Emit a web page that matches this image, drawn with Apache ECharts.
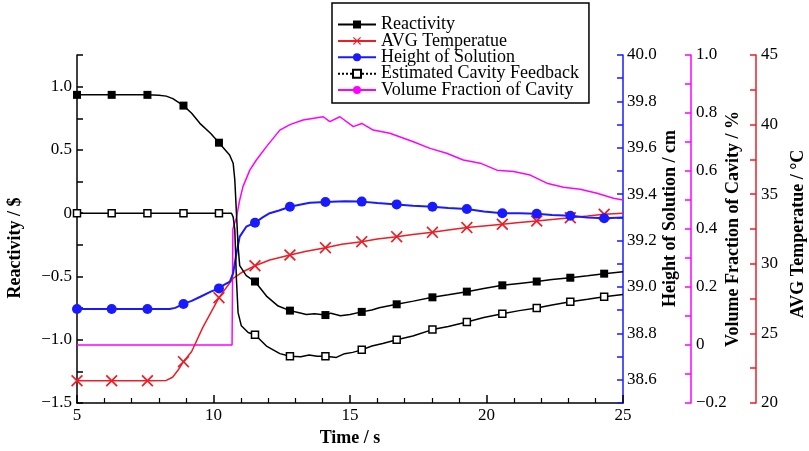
<!DOCTYPE html>
<html><head><meta charset="utf-8">
<script src="https://cdn.jsdelivr.net/npm/echarts/dist/echarts.min.js"></script>
<style>html,body{margin:0;padding:0;background:#fff}#c{width:809px;height:451px}</style>
</head><body><div id="c"></div>
<script>
// ---- data ----
const markerTimes = [5.0, 6.27, 7.58, 8.9, 10.2, 11.52, 12.8, 14.1, 15.43, 16.71, 18.02, 19.28, 20.58, 21.84, 23.07, 24.31];

const reactT = [5.0, 6.27, 7.58, 8.0, 8.27, 8.51, 8.9, 9.2, 9.5, 9.9, 10.2, 10.47, 10.59, 10.72, 10.78, 10.84, 10.9, 10.96, 11.2, 11.52, 11.94, 12.37, 12.8, 13.1, 13.4, 13.7, 14.1, 14.3, 14.65, 15.0, 15.43, 15.8, 16.07, 16.71, 17.32, 18.02, 18.6, 19.28, 19.9, 20.58, 21.2, 21.84, 22.4, 23.07, 23.7, 24.31, 25.0];
const reactV = [0.935, 0.935, 0.935, 0.932, 0.925, 0.905, 0.85, 0.79, 0.71, 0.63, 0.557, 0.49, 0.46, 0.395, 0.264, 0.005, -0.258, -0.415, -0.494, -0.54, -0.655, -0.734, -0.77, -0.785, -0.80, -0.795, -0.805, -0.79, -0.81, -0.80, -0.78, -0.765, -0.747, -0.72, -0.695, -0.665, -0.645, -0.62, -0.595, -0.57, -0.555, -0.54, -0.525, -0.51, -0.495, -0.478, -0.463];

const tempT = [5.0, 6.27, 7.58, 8.27, 8.5, 8.7, 8.9, 9.2, 9.6, 10.2, 10.72, 11.08, 11.52, 12.06, 12.8, 13.4, 14.1, 14.7, 15.43, 16.0, 16.71, 17.3, 18.02, 18.6, 19.28, 19.9, 20.58, 21.2, 21.84, 22.4, 23.07, 23.7, 24.31, 25.0];
const tempV = [21.6, 21.6, 21.6, 21.62, 21.85, 22.35, 22.97, 23.7, 25.4, 27.57, 28.96, 29.43, 29.86, 30.27, 30.63, 30.9, 31.16, 31.4, 31.59, 31.78, 31.95, 32.1, 32.26, 32.42, 32.6, 32.72, 32.84, 32.96, 33.07, 33.18, 33.31, 33.43, 33.56, 33.63];

const heightT = [5.0, 6.27, 7.58, 8.39, 8.6, 8.9, 9.2, 9.52, 9.9, 10.2, 10.4, 10.6, 10.72, 10.84, 10.96, 11.2, 11.52, 11.8, 12.06, 12.4, 12.8, 13.2, 13.53, 14.1, 14.8, 15.43, 16.0, 16.71, 17.3, 18.02, 18.6, 19.28, 19.9, 20.58, 21.2, 21.84, 22.4, 23.07, 23.7, 24.31, 25.0];
const heightV = [38.905, 38.905, 38.905, 38.905, 38.91, 38.927, 38.94, 38.958, 38.98, 38.994, 39.01, 39.023, 39.06, 39.145, 39.217, 39.26, 39.277, 39.30, 39.318, 39.33, 39.346, 39.356, 39.363, 39.366, 39.37, 39.368, 39.362, 39.356, 39.35, 39.346, 39.34, 39.336, 39.325, 39.318, 39.318, 39.316, 39.31, 39.307, 39.30, 39.296, 39.30];

const cavityFbT = [5.0, 6.27, 7.58, 8.9, 10.2, 10.66, 10.72, 10.78, 10.84, 10.9, 11.02, 11.27, 11.52, 11.94, 12.43, 12.8, 13.2, 13.5, 13.8, 14.1, 14.5, 14.8, 15.1, 15.43, 15.8, 16.2, 16.71, 17.3, 18.02, 18.6, 19.28, 19.9, 20.58, 21.2, 21.84, 22.4, 23.07, 23.7, 24.31, 25.0];
const cavityFbV = [0, 0, 0, 0, 0, 0, -0.03, -0.13, -0.52, -0.786, -0.89, -0.943, -0.96, -1.05, -1.11, -1.13, -1.135, -1.12, -1.13, -1.13, -1.14, -1.11, -1.10, -1.08, -1.05, -1.03, -1.0, -0.97, -0.92, -0.895, -0.86, -0.825, -0.795, -0.77, -0.75, -0.725, -0.70, -0.68, -0.66, -0.642];

const volFracT = [5.0, 10.68, 10.71, 10.84, 10.96, 11.08, 11.33, 11.57, 11.94, 12.43, 12.8, 13.28, 14.02, 14.26, 14.63, 15.12, 15.43, 15.85, 16.46, 17.32, 17.93, 18.54, 19.15, 19.77, 20.38, 20.99, 21.6, 22.21, 22.82, 23.43, 24.05, 24.65, 25.0];
const volFracV = [0.0, 0.0, 0.40, 0.44, 0.5, 0.546, 0.603, 0.638, 0.684, 0.741, 0.76, 0.776, 0.787, 0.77, 0.787, 0.753, 0.764, 0.741, 0.73, 0.701, 0.678, 0.661, 0.638, 0.627, 0.603, 0.598, 0.586, 0.558, 0.544, 0.537, 0.523, 0.506, 0.5];

const seriesNames = ['Reactivity', 'AVG Temperatue', 'Height of Solution', 'Estimated Cavity Feedback', 'Volume Fraction of Cavity'];
const xName = 'Time / s';
const yNames = ['Reactivity / $', 'Height of Solution / cm', 'Volume Fraction of Cavity / %', 'AVG Temperatue / °C'];

// ---- chart ----
const FONT = 'Liberation Serif';
const RED = '#ee1c24', BLUE = '#1a1aff', MAG = '#f0f';
const minus = s => s.replace('-', '\u2212');

function mk(times, vals, withMarkers) {
  return times.map((t, i) => (withMarkers && markerTimes.includes(t)) ? [t, vals[i]] : { value: [t, vals[i]], symbol: 'none' });
}

const tickLabel = { fontFamily: FONT, fontSize: 17, color: '#000' };
const nameStyle = { fontFamily: FONT, fontSize: 18, fontWeight: 'bold', color: '#000' };

function yAx(opt) {
  return Object.assign({
    type: 'value', position: 'right', splitLine: { show: false },
    axisLine: { show: true, onZero: false, lineStyle: { width: 1.5 } },
    axisTick: { show: true, inside: true, length: 6, lineStyle: { width: 1.5 } },
    nameLocation: 'middle', nameRotate: 90, nameMoveOverlap: false,
  }, opt);
}

const chart = echarts.init(document.getElementById('c'), null, { renderer: 'canvas' });
chart.setOption({
  animation: false,
  backgroundColor: '#fff',
  grid: { left: 77, right: 186, top: 55, bottom: 48, containLabel: false, outerBoundsMode: 'none' },
  legend: {
    orient: 'vertical', left: 332, top: 3,
    borderColor: '#000', borderWidth: 1.5, padding: [12.5, 10, 4, 5],
    itemGap: -1.6, itemWidth: 38, itemHeight: 10,
    textStyle: { fontFamily: FONT, fontSize: 18, color: '#000' },
    data: [
      { name: seriesNames[0] },
      { name: seriesNames[1] },
      { name: seriesNames[2] },
      { name: seriesNames[3], lineStyle: { type: 'dotted' } },
      { name: seriesNames[4] }
    ]
  },
  xAxis: {
    type: 'value', min: 5, max: 25, interval: 5,
    name: xName, nameLocation: 'middle', nameGap: 26, nameTextStyle: nameStyle, nameMoveOverlap: false,
    splitLine: { show: false },
    axisLine: { onZero: false, lineStyle: { color: '#000', width: 1.5 } },
    axisTick: { inside: true, length: 8, lineStyle: { width: 1.5 } },
    minorTick: { show: true, splitNumber: 5, length: 5, lineStyle: { color: '#000', width: 1.2 } },
    axisLabel: Object.assign({ margin: 4 }, tickLabel)
  },
  yAxis: [
    yAx({
      position: 'left', min: -1.5, max: 1.25, interval: 0.25,
      name: yNames[0], nameGap: 53, nameTextStyle: Object.assign({ padding: [0, 38, 0, 0] }, nameStyle),
      axisLine: { show: true, onZero: false, lineStyle: { color: '#000', width: 1.5 } },
      axisLabel: Object.assign({ margin: 5, formatter: v => {
        const k = Math.round(v * 4);
        if (k % 2 !== 0) return '';
        return k === 0 ? '0' : minus(v.toFixed(1));
      } }, tickLabel)
    }),
    yAx({
      min: 38.5, max: 40.0, interval: 0.1, offset: 0,
      name: yNames[1], nameGap: 38, nameTextStyle: Object.assign({ padding: [0, 0, 0, 21] }, nameStyle),
      axisLine: { show: true, onZero: false, lineStyle: { color: BLUE, width: 1.5 } },
      axisLabel: Object.assign({ margin: 4, formatter: v => {
        const k = Math.round(v * 10);
        return (k % 2 === 0) ? (k / 10).toFixed(1) : '';
      } }, tickLabel)
    }),
    yAx({
      min: -0.2, max: 1.0, interval: 0.1, offset: 68,
      name: yNames[2], nameGap: 33, nameTextStyle: nameStyle,
      axisLine: { show: true, onZero: false, lineStyle: { color: MAG, width: 1.5 } },
      axisLabel: Object.assign({ margin: 5, formatter: v => {
        const k = Math.round(v * 10);
        if (k % 2 !== 0) return '';
        return k === 0 ? '0' : minus((k / 10).toFixed(1));
      } }, tickLabel)
    }),
    yAx({
      min: 20, max: 45, interval: 2.5, offset: 133,
      name: yNames[3], nameGap: 33, nameTextStyle: Object.assign({ padding: [0, 10, 0, 0] }, nameStyle),
      axisLine: { show: true, onZero: false, lineStyle: { color: RED, width: 1.5 } },
      axisLabel: Object.assign({ margin: 5, formatter: v => (Math.round(v * 2) % 10 === 0) ? String(Math.round(v)) : '' }, tickLabel)
    })
  ],
  series: [
    {
      name: seriesNames[4], type: 'line', yAxisIndex: 2, z: 2,
      data: mk(volFracT, volFracV, false), symbol: 'none', showSymbol: false,
      lineStyle: { color: MAG, width: 1.5 }, itemStyle: { color: MAG },
      emphasis: { disabled: true }
    },
    {
      name: seriesNames[1], type: 'line', yAxisIndex: 3, z: 3,
      data: mk(tempT, tempV, true),
      symbol: 'path://M1,0L5,4L9,0L10,1L6,5L10,9L9,10L5,6L1,10L0,9L4,5L0,1Z', symbolSize: 12,
      lineStyle: { color: RED, width: 1.5 }, itemStyle: { color: RED },
      emphasis: { disabled: true }
    },
    {
      name: seriesNames[2], type: 'line', yAxisIndex: 1, z: 4,
      data: mk(heightT, heightV, true), symbol: 'circle', symbolSize: 10,
      lineStyle: { color: BLUE, width: 2 }, itemStyle: { color: BLUE },
      emphasis: { disabled: true }
    },
    {
      name: seriesNames[3], type: 'line', yAxisIndex: 0, z: 5,
      data: mk(cavityFbT, cavityFbV, true), symbol: 'rect', symbolSize: 7,
      lineStyle: { color: '#000', width: 1.5 }, itemStyle: { color: '#fff', borderColor: '#000', borderWidth: 1.5 },
      emphasis: { disabled: true }
    },
    {
      name: seriesNames[0], type: 'line', yAxisIndex: 0, z: 6,
      data: mk(reactT, reactV, true), symbol: 'rect', symbolSize: 8,
      lineStyle: { color: '#000', width: 1.5 }, itemStyle: { color: '#000' },
      emphasis: { disabled: true }
    }
  ]
});
</script>
</body></html>
